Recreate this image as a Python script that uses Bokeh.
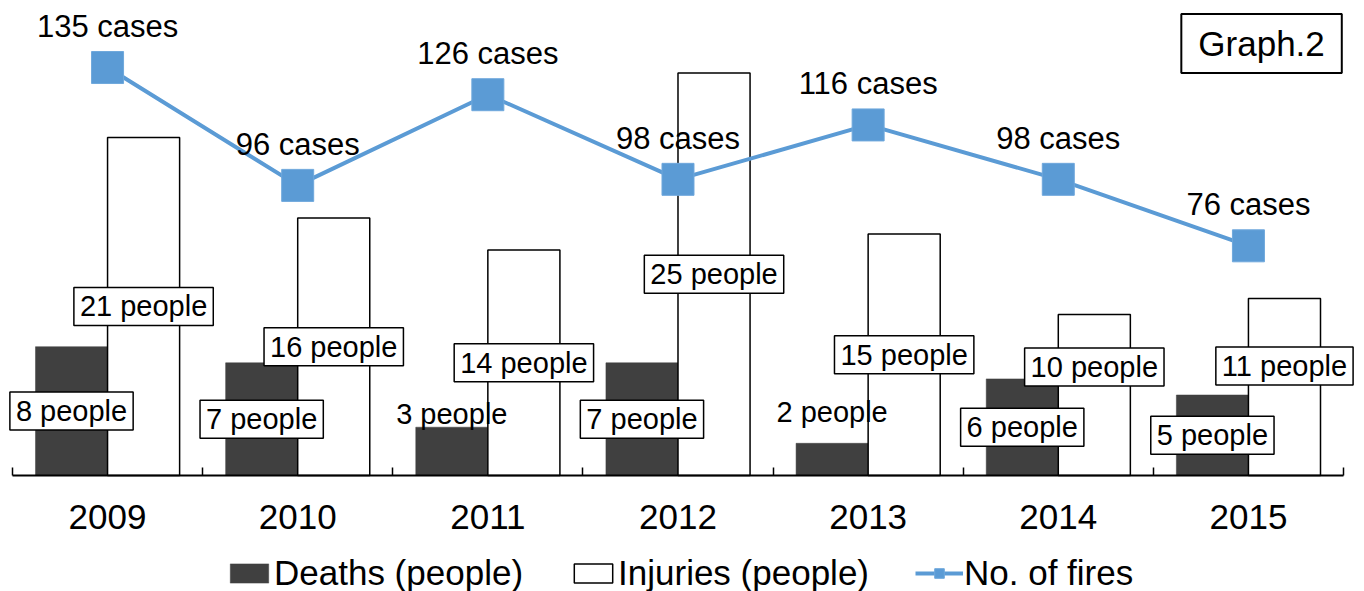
from bokeh.plotting import figure
from bokeh.models import (ColumnDataSource, Range1d, LinearAxis, FixedTicker,
                          Label, Legend, LegendItem)
from bokeh.core.properties import value
from bokeh.embed import file_html
from bokeh.resources import INLINE

# ---- data ----
years = ["2009", "2010", "2011", "2012", "2013", "2014", "2015"]
deaths = [8, 7, 3, 7, 2, 6, 5]
injuries = [21, 16, 14, 25, 15, 10, 11]
fires = [135, 96, 126, 98, 116, 98, 76]

FONT = "Liberation Sans"
BLUE = "#5B9BD5"
DARK = "#404040"

n = len(years)
idx = list(range(n))
bar_w = 0.379

# frame spans the whole canvas; the category axis is pinned at y = 0
p = figure(width=1364, height=591,
           x_range=Range1d(-0.563, n - 0.5 + 0.1104), y_range=Range1d(-7.205, 29.006),
           output_backend="svg", toolbar_location=None,
           x_axis_location=None, y_axis_location=None,
           min_border_left=0, min_border_right=0, min_border_top=8,
           min_border_bottom=0)
p.extra_y_ranges = {"fires": Range1d(-38.39, 154.53)}
p.grid.visible = False
p.outline_line_color = None
p.background_fill_color = "white"
p.border_fill_color = "white"

xaxis = LinearAxis(ticker=FixedTicker(ticks=idx, minor_ticks=[i - 0.5 for i in range(n + 1)]),
                   major_label_overrides={i: y for i, y in enumerate(years)},
                   fixed_location=0, bounds=(-0.5, n - 0.5))
xaxis.axis_line_color = "black"
xaxis.axis_line_width = 2
xaxis.major_tick_in = 0
xaxis.major_tick_out = 0
xaxis.major_tick_line_color = None
xaxis.minor_tick_in = 8
xaxis.minor_tick_out = 0
xaxis.minor_tick_line_color = "black"
xaxis.minor_tick_line_width = 1.5
xaxis.major_label_text_font = FONT
xaxis.major_label_text_font_size = "35px"
xaxis.major_label_text_color = "black"
xaxis.major_label_standoff = 30
p.add_layout(xaxis, "below")

src = ColumnDataSource(dict(
    x=idx,
    xd=[i - bar_w / 2 for i in idx],
    xi=[i + bar_w / 2 for i in idx],
    deaths=deaths, injuries=injuries, fires=fires,
    flab=[f"{f} cases" for f in fires],
))

rd = p.vbar(x="xd", top="deaths", bottom=0, width=bar_w, source=src,
            fill_color=DARK, line_color=DARK, line_width=0.5)
ri = p.vbar(x="xi", top="injuries", bottom=0, width=bar_w, source=src,
            fill_color="white", line_color="black", line_width=1.5)
rl = p.line(x="x", y="fires", source=src, y_range_name="fires",
            line_color=BLUE, line_width=4)
rm = p.scatter(x="x", y="fires", source=src, y_range_name="fires",
               marker="square", size=32, fill_color=BLUE, line_color="#6FA8DC")

# people labels (bar-centred; a few nudged up as in the original)
d_off = [0, 0, -37, 0, -47, 0, 0]
i_off = [0, 0, 0, 0, 0, -28, -21]
boxed = dict(x=[], y=[], t=[], o=[])
plain = dict(x=[], y=[], t=[], o=[])
for i in idx:
    tgt = plain if d_off[i] < -30 else boxed
    tgt["x"].append(i - bar_w / 2); tgt["y"].append(deaths[i] / 2)
    tgt["t"].append(f"{deaths[i]} people"); tgt["o"].append(d_off[i])
    boxed["x"].append(i + bar_w / 2); boxed["y"].append(injuries[i] / 2)
    boxed["t"].append(f"{injuries[i]} people"); boxed["o"].append(i_off[i])

p.text(x="x", y="y", text="t", y_offset="o", source=ColumnDataSource(boxed),
       text_align="center", text_baseline="middle",
       text_font=value(FONT), text_font_size="29px", text_color="black",
       background_fill_color="white", border_line_color="black",
       border_line_width=1.5, padding=dict(left=6, right=6, top=3, bottom=3))
p.text(x="x", y="y", text="t", y_offset="o", source=ColumnDataSource(plain),
       text_align="center", text_baseline="middle",
       text_font=value(FONT), text_font_size="29px", text_color="black")

p.text(x="x", y="fires", text="flab", source=src, y_range_name="fires",
       y_offset=-41, text_align="center", text_baseline="middle",
       text_font=value(FONT), text_font_size="31px", text_color="black")

p.add_layout(Label(x=6.069, y=26.83, text="Graph.2", text_align="center",
                   text_baseline="middle", text_font=FONT, text_font_size="35px",
                   text_color="black", background_fill_color="white",
                   border_line_color="black", border_line_width=2,
                   padding=dict(left=17, right=17, top=10, bottom=10)))

legend = Legend(items=[LegendItem(label="Deaths (people)", renderers=[rd]),
                       LegendItem(label="Injuries (people)", renderers=[ri]),
                       LegendItem(label="No. of fires", renderers=[rl, rm])],
                orientation="horizontal", location=(225, -2),
                glyph_width=48, glyph_height=24, label_standoff=1, spacing=46,
                label_text_font=FONT, label_text_font_size="35px",
                label_height=30,
                label_text_color="black", border_line_color=None,
                background_fill_alpha=0, padding=0, margin=0)
p.add_layout(legend, "center")

open("out.html", "w").write(file_html(p, INLINE))
